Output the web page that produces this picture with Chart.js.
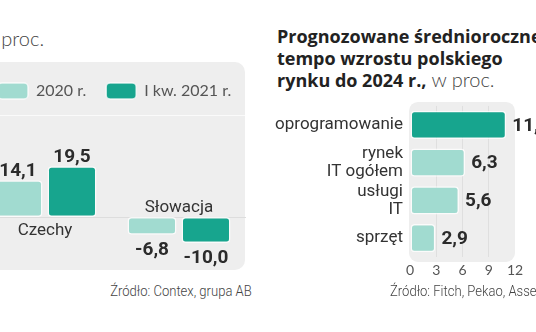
<!DOCTYPE html>
<html>
<head>
<meta charset="utf-8">
<script src="https://cdn.jsdelivr.net/npm/chart.js@4.4.0/dist/chart.umd.min.js"></script>
<style>
  body { margin: 0; width: 536px; height: 332px; overflow: hidden; position: relative; background: #fff; font-family: Lato, sans-serif; }
  .panel { position: absolute; left: -20px; top: 62px; width: 265px; height: 208px; background: #eeeeee; border-radius: 10px; }
  .sep { position: absolute; left: 0; right: 0; top: 53px; height: 1px; background: #fafafa; }
  #lewy { position: absolute; left: -22px; top: 63px; }
  #prawy { position: absolute; left: 270px; top: 90px; }
  .tyt { position: absolute; font-size: 20px; line-height: 21px; color: #444; white-space: nowrap; font-weight: 300; }
  .tyt b { color: #222; font-family: "Open Sans", sans-serif; font-size: 18px; font-weight: 700; }
  .zr { position: absolute; top: 284px; font-family: Roboto, sans-serif; font-weight: 300; font-size: 15px; line-height: 15px; color: #444; white-space: nowrap; transform: scaleX(0.87); }
</style>
</head>
<body>
<div class="tyt" style="left:-19px; top:28px;">w proc.</div>
<div class="tyt" style="left:277px; top:25px;"><b>Prognozowane średnioroczne<br>tempo wzrostu polskiego<br>rynku do 2024 r.,</b> w proc.</div>

<div class="panel"><div class="sep"></div></div>
<canvas id="lewy" width="312" height="206"></canvas>
<canvas id="prawy" width="290" height="191"></canvas>

<div class="zr" style="right:284px; transform-origin: right center;">Źródło: Contex, grupa AB</div>
<div class="zr" style="left:390px; transform-origin: left center;">Źródło: Fitch, Pekao, Asseco</div>

<script>
// dane - lewy wykres
const kraje = ["Czechy", "Słowacja"];
const r2020 = [14.1, -6.8];
const kw2021 = [19.5, -10.0];

// dane - prawy wykres
const segmenty = ["oprogramowanie", ["rynek", "IT ogółem"], ["usługi", "IT"], "sprzęt"];
const tempo = [11.0, 6.3, 5.6, 2.9];
const osX = [0, 3, 6, 9, 12];

const jasny = "#a1dbd0";
const ciemny = "#17a58e";
const ramka = "rgba(255,255,255,0.75)";

Chart.defaults.font.family = "Roboto";
Chart.defaults.animation = false;

const fmt = v => v.toFixed(1).replace(".", ",");

const etykietyLewy = {
  id: "etykietyLewy",
  beforeDatasetsDraw(chart) {
    const { ctx, chartArea, scales: { y } } = chart;
    const y0 = Math.round(y.getPixelForValue(0)) + 0.5;
    ctx.save();
    ctx.strokeStyle = "#dddddd";
    ctx.lineWidth = 1;
    ctx.beginPath();
    ctx.moveTo(chartArea.left, y0);
    ctx.lineTo(chartArea.right, y0);
    ctx.stroke();
    ctx.restore();
  },
  afterDatasetsDraw(chart) {
    const { ctx, scales: { x, y } } = chart;
    const y0 = y.getPixelForValue(0);
    ctx.save();
    ctx.textAlign = "center";
    ctx.textBaseline = "alphabetic";
    ctx.font = "bold 19px Roboto";
    ctx.fillStyle = "#2b2b2b";
    chart.data.datasets.forEach((ds, di) => {
      chart.getDatasetMeta(di).data.forEach((bar, i) => {
        const v = ds.data[i];
        if (v >= 0) ctx.fillText(fmt(v), bar.x, bar.y - 4);
        else ctx.fillText(fmt(v), bar.x, bar.y + 20);
      });
    });
    ctx.font = "17px Roboto";
    ctx.fillStyle = "#333";
    kraje.forEach((k, i) => {
      const cx = x.getPixelForValue(i);
      if (r2020[i] >= 0) ctx.fillText(k, cx, y0 + 18);
      else ctx.fillText(k, cx, y0 - 5);
    });
    ctx.restore();
  }
};

new Chart(document.getElementById("lewy"), {
  type: "bar",
  data: {
    labels: kraje,
    datasets: [
      { label: "2020 r.", data: r2020, backgroundColor: jasny },
      { label: "I kw. 2021 r.", data: kw2021, backgroundColor: ciemny }
    ]
  },
  options: {
    responsive: false,
    layout: { padding: 0 },
    datasets: {
      bar: {
        categoryPercentage: 0.806,
        barPercentage: 0.907,
        borderColor: ramka,
        borderWidth: 1.5,
        borderRadius: 4,
        borderSkipped: false
      }
    },
    scales: {
      x: { display: false },
      y: {
        position: "right",
        min: -20,
        max: 41.5,
        afterFit: s => { s.width = 44; },
        border: { display: false },
        grid: { display: false },
        ticks: { display: false }
      }
    },
    plugins: {
      tooltip: { enabled: false },
      legend: {
        align: "start",
        labels: {
          boxWidth: 30,
          boxHeight: 16,
          useBorderRadius: true,
          borderRadius: 4,
          padding: 20,
          color: "#555",
          font: { family: "Lato", size: 16 }
        }
      }
    }
  },
  plugins: [etykietyLewy]
});

const etykietyPrawy = {
  id: "etykietyPrawy",
  beforeDraw(chart) {
    const { ctx, chartArea } = chart;
    ctx.save();
    ctx.fillStyle = "#eeeeee";
    ctx.beginPath();
    ctx.roundRect(chartArea.left - 1, chartArea.top - 4, chartArea.right - chartArea.left + 1, chartArea.bottom - chartArea.top + 9, 9);
    ctx.fill();
    ctx.restore();
  },
  afterDatasetsDraw(chart) {
    const { ctx } = chart;
    ctx.save();
    ctx.font = "bold 19px Roboto";
    ctx.fillStyle = "#2b2b2b";
    ctx.textAlign = "left";
    ctx.textBaseline = "middle";
    chart.getDatasetMeta(0).data.forEach((bar, i) => {
      ctx.fillText(fmt(tempo[i]), bar.x + 6, bar.y + 1);
    });
    ctx.restore();
  }
};

new Chart(document.getElementById("prawy"), {
  type: "bar",
  data: {
    labels: segmenty,
    datasets: [{
      data: tempo,
      backgroundColor: tempo.map((v, i) => i === 0 ? ciemny : jasny),
      borderColor: ramka,
      borderWidth: 1.5,
      borderRadius: 4,
      borderSkipped: false,
      categoryPercentage: 1,
      barPercentage: 0.75
    }]
  },
  options: {
    indexAxis: "y",
    responsive: false,
    layout: { padding: { top: 11, right: 45, bottom: 0, left: 0 } },
    scales: {
      x: {
        min: osX[0],
        max: osX[osX.length - 1],
        afterBuildTicks: s => { s.ticks = osX.map(v => ({ value: v })); },
        afterFit: s => { s.height = 24; },
        border: { display: false },
        grid: {
          drawTicks: false,
          color: c => (c.tick && c.tick.value > 0 && c.tick.value < 12) ? "#dfdfdf" : "rgba(0,0,0,0)"
        },
        ticks: { padding: 5, color: "#555", font: { family: "Lato", size: 14 } }
      },
      y: {
        afterFit: s => { s.width = 140; },
        border: { display: false },
        grid: { display: false, drawTicks: false },
        ticks: { autoSkip: false, padding: 7, color: "#333", font: { size: 17, lineHeight: 1.05 } }
      }
    },
    plugins: {
      tooltip: { enabled: false },
      legend: { display: false }
    }
  },
  plugins: [etykietyPrawy]
});
</script>
</body>
</html>
